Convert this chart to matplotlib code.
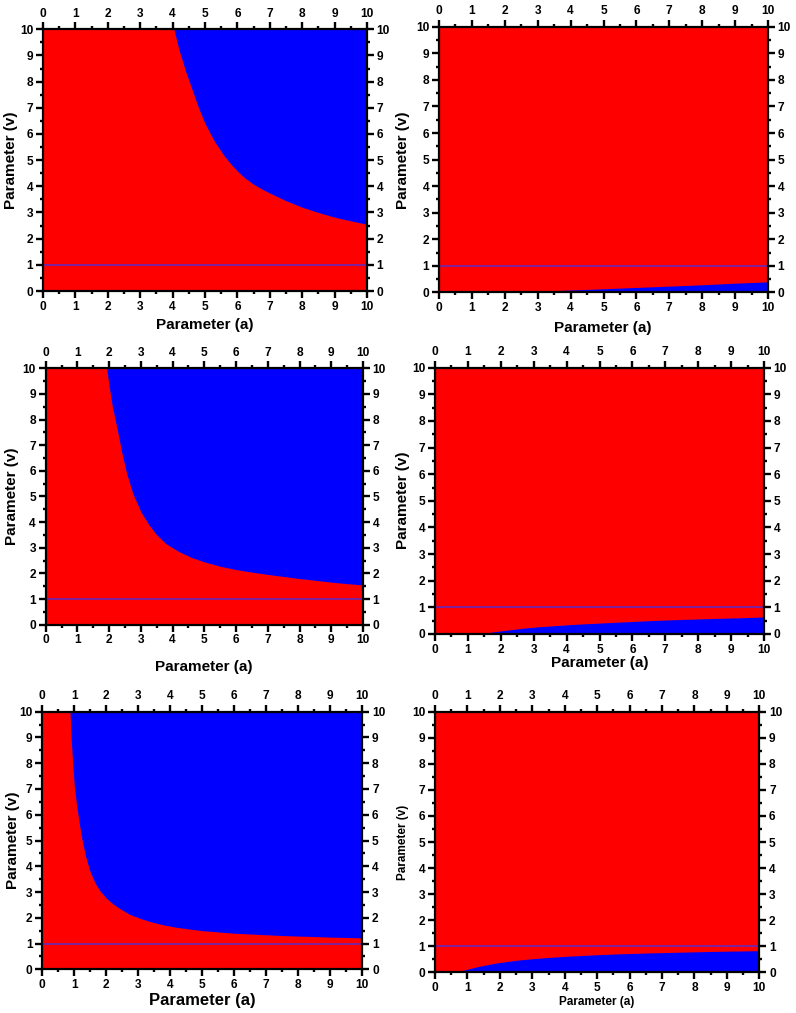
import matplotlib
matplotlib.use("Agg")
import matplotlib.pyplot as plt
from matplotlib.ticker import MultipleLocator

plt.rcParams['font.family'] = ['Liberation Sans', 'DejaVu Sans']
plt.rcParams['font.weight'] = 'bold'

W, H = 796, 1013

# Boundary curves (a, v)
# Left column: blue region lies above the boundary
p1_a = [4.04, 4.2, 4.4, 4.6, 4.8, 5.0, 5.3, 5.6, 5.8, 6.0, 6.25, 6.5, 6.75, 7.0, 7.5, 8.0, 8.5, 9.0, 9.5, 10.0]
p1_v = [10.0, 9.2, 8.4, 7.7, 7.0, 6.4, 5.7, 5.15, 4.85, 4.58, 4.3, 4.08, 3.9, 3.74, 3.45, 3.2, 3.0, 2.82, 2.68, 2.55]

p3_a = [1.92, 2.0, 2.1, 2.24, 2.4, 2.55, 2.75, 3.0, 3.25, 3.5, 3.8, 4.2, 4.6, 5.0, 5.5,
        6.0, 6.5, 7.0, 7.5, 8.0, 8.5, 9.0, 9.5, 10.0]
p3_v = [10.0, 9.3, 8.5, 7.7, 6.7, 5.9, 5.1, 4.4, 3.9, 3.5, 3.15, 2.85, 2.62, 2.45, 2.28,
        2.15, 2.05, 1.96, 1.88, 1.8, 1.73, 1.66, 1.6, 1.55]

p5_a = [0.866, 0.9, 0.95, 1.0, 1.07, 1.15, 1.23, 1.35, 1.49, 1.65, 1.8, 2.0, 2.25, 2.5, 2.75,
        3.05, 3.4, 3.8, 4.2, 4.62, 5.0, 5.5, 6.0, 6.5, 7.0, 7.5, 8.0, 8.5, 9.0, 9.5, 10.0]
p5_v = [10.0, 9.0, 8.0, 7.1, 6.4, 5.7, 5.1, 4.4, 3.8, 3.35, 3.05, 2.76, 2.5, 2.3, 2.12,
        1.98, 1.84, 1.72, 1.63, 1.56, 1.5, 1.45, 1.4, 1.37, 1.34, 1.31, 1.29, 1.27, 1.25, 1.235, 1.22]

# Right column: blue region lies below the boundary
p2_a = [0, 1.0, 1.9, 3.0, 4.0, 5.0, 6.0, 7.0, 8.0, 9.0, 10.0]
p2_v = [0, 0, 0.005, 0.05, 0.095, 0.14, 0.19, 0.24, 0.29, 0.35, 0.40]

p4_a = [0, 1.1, 1.3, 1.6, 1.9, 2.3, 2.7, 3.1, 3.5, 4.0, 4.5, 5.0, 5.5, 6.0, 6.5,
        7.0, 7.5, 8.0, 8.5, 9.0, 9.5, 10.0]
p4_v = [0, 0, 0.01, 0.05, 0.10, 0.16, 0.22, 0.265, 0.30, 0.345, 0.38, 0.41, 0.44, 0.47, 0.50,
        0.525, 0.545, 0.565, 0.585, 0.60, 0.62, 0.64]

p6_a = [0, 0.45, 0.6, 0.8, 1.0, 1.2, 1.4, 1.65, 1.9, 2.2, 2.5, 2.9, 3.4, 4.0, 4.5, 5.0,
        5.5, 6.0, 6.5, 7.0, 7.5, 8.0, 8.5, 9.0, 9.5, 10.0]
p6_v = [0, 0, 0.015, 0.06, 0.12, 0.18, 0.24, 0.30, 0.36, 0.41, 0.46, 0.51, 0.56, 0.61, 0.645, 0.675,
        0.70, 0.72, 0.74, 0.755, 0.77, 0.785, 0.80, 0.81, 0.82, 0.83]

ref_level = 1.0
ticks = list(range(0, 11))

RED = '#ff0000'
BLUE = '#0000ff'
LINE = '#5a2cc8'

fig = plt.figure(figsize=(W / 100, H / 100), dpi=100)


def px_rect(x0, x1, ytop, ybot):
    return [x0 / W, 1 - ybot / H, (x1 - x0) / W, (ybot - ytop) / H]


panels = [
    # rect px, curve, side, xlabel (x, y, size), ylabel (x, y, size)
    (px_rect(43, 367, 29.3, 291), (p1_a, p1_v), 'above', (205, 325, 11), (11, 160, 11)),
    (px_rect(439, 768, 26.7, 292.5), (p2_a, p2_v), 'below', (603, 328, 11), (403, 160, 11)),
    (px_rect(45.7, 363, 368.3, 624.7), (p3_a, p3_v), 'above', (204, 667, 11), (12.5, 496, 11)),
    (px_rect(435, 764, 367.7, 634), (p4_a, p4_v), 'below', (600, 663, 11), (403, 500, 11)),
    (px_rect(42.3, 362.3, 711.7, 969.3), (p5_a, p5_v), 'above', (202, 1000, 12), (13, 840, 11)),
    (px_rect(435, 759.3, 711.7, 972.3), (p6_a, p6_v), 'below', (597, 1002, 8.5), (403, 842, 8.5)),
]

for rect, (ca, cv), side, xl, yl in panels:
    ax = fig.add_axes(rect)
    ax.set_xlim(0, 10)
    ax.set_ylim(0, 10)
    ax.set_facecolor(RED)
    if side == 'above':
        ax.fill_between(ca, cv, 10, color=BLUE, lw=0)
    else:
        ax.fill_between(ca, 0, cv, color=BLUE, lw=0)
    ax.axhline(ref_level, color=LINE, lw=1.1)

    ax.set_xticks(ticks)
    ax.set_yticks(ticks)
    ax.xaxis.set_minor_locator(MultipleLocator(0.5))
    ax.yaxis.set_minor_locator(MultipleLocator(0.5))
    ax.tick_params(which='both', direction='out', top=True, right=True,
                   labeltop=True, labelright=True, width=1.7, color='black')
    ax.tick_params(which='major', length=5, pad=2, labelsize=8.6)
    ax.tick_params(which='minor', length=2.5)
    for lab in ax.get_xticklabels() + ax.get_yticklabels():
        lab.set_fontweight('bold')
    for sp in ax.spines.values():
        sp.set_linewidth(1.6)
        sp.set_color('black')

    ax.set_xlabel('Parameter (a)', fontsize=xl[2], fontweight='bold', va='center')
    ax.xaxis.set_label_coords(xl[0] / W, 1 - xl[1] / H, transform=fig.transFigure)
    ax.set_ylabel('Parameter (v)', fontsize=yl[2], fontweight='bold', va='center')
    ax.yaxis.set_label_coords(yl[0] / W, 1 - yl[1] / H, transform=fig.transFigure)

fig.savefig('out.png', dpi=100, facecolor='white')
